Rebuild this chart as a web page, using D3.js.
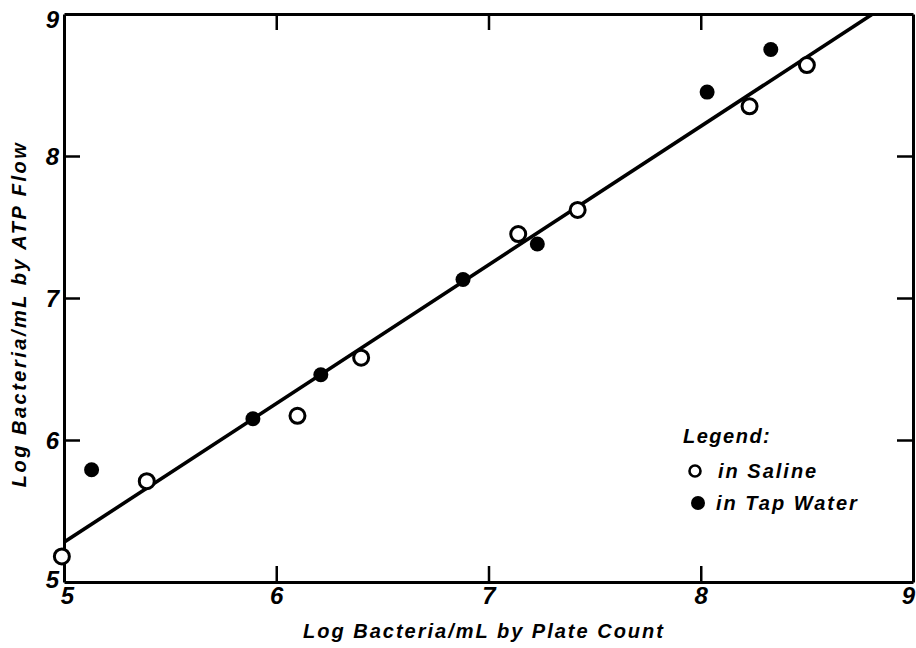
<!doctype html>
<html>
<head>
<style>
  body { margin: 0; background: #fff; }
  text { font-family: "Liberation Sans", Arial, sans-serif; font-weight: bold; font-style: italic; fill: #000; }
</style>
<script src="https://d3js.org/d3.v7.min.js"></script>
</head>
<body>
<svg width="916" height="648"></svg>
<script>
var xTicks = [5, 6, 7, 8, 9];
var yTicks = [5, 6, 7, 8, 9];

var salineX = [4.99, 5.39, 6.10, 6.40, 7.14, 7.42, 8.23, 8.50];
var salineY = [5.18, 5.71, 6.17, 6.58, 7.45, 7.62, 8.35, 8.64];

var tapX = [5.13, 5.89, 6.21, 6.88, 7.23, 8.03, 8.33];
var tapY = [5.79, 6.15, 6.46, 7.13, 7.38, 8.45, 8.75];

var fitX = [5, 8.81];
var fitY = [5.28, 9];

var svg = d3.select("svg"),
    margin = { top: 14, right: 3, bottom: 66, left: 64 },
    width = 916 - margin.left - margin.right,
    height = 648 - margin.top - margin.bottom;

var x = d3.scaleLinear().domain([5, 9]).range([0, width]),
    y = d3.scaleLinear().domain([5, 9]).range([height, 0]);

var g = svg.append("g")
    .attr("transform", "translate(" + margin.left + "," + margin.top + ")");

g.append("clipPath").attr("id", "clip")
    .append("rect").attr("width", width).attr("height", height);

function styleAxis(sel) {
    sel.select(".domain").attr("stroke", "#000").attr("stroke-width", 3);
    sel.selectAll(".tick line").attr("stroke", "#000").attr("stroke-width", 2.5);
    sel.selectAll(".tick text").style("font-size", "24px");
}

var inner = [6, 7, 8];

g.append("g")
    .attr("transform", "translate(0," + height + ")")
    .call(d3.axisBottom(x).tickValues(xTicks).tickSizeInner(-16).tickSizeOuter(0).tickPadding(5).tickFormat(d3.format("d")))
    .call(styleAxis)
    .call(function (s) {
        s.selectAll(".tick line").attr("display", function (d) { return inner.indexOf(d) < 0 ? "none" : null; });
        s.selectAll(".tick text").attr("dx", function (d) { return d === 5 ? 3 : d === 9 ? -5 : 0; });
    });

g.append("g")
    .call(d3.axisLeft(y).tickValues(yTicks).tickSizeInner(-16).tickSizeOuter(0).tickPadding(5).tickFormat(d3.format("d")))
    .call(styleAxis)
    .call(function (s) {
        s.selectAll(".tick line").attr("display", function (d) { return inner.indexOf(d) < 0 ? "none" : null; });
        s.selectAll(".tick text").attr("dy", function (d) { return d === 9 ? "0.55em" : d === 5 ? "0.22em" : "0.35em"; });
    });

g.append("g")
    .call(d3.axisTop(x).tickValues(inner).tickSizeInner(-16).tickSizeOuter(0).tickFormat(""))
    .call(styleAxis);

g.append("g")
    .attr("transform", "translate(" + width + ",0)")
    .call(d3.axisRight(y).tickValues(inner).tickSizeInner(-16).tickSizeOuter(0).tickFormat(""))
    .call(styleAxis);

// fitted line
g.append("path")
    .datum(fitX.map(function (d, i) { return [d, fitY[i]]; }))
    .attr("clip-path", "url(#clip)")
    .attr("fill", "none")
    .attr("stroke", "#000")
    .attr("stroke-width", 3.6)
    .attr("d", d3.line().x(function (d) { return x(d[0]); }).y(function (d) { return y(d[1]); }));

// points
g.selectAll(".tap")
    .data(tapX)
    .enter().append("circle")
    .attr("class", "tap")
    .attr("cx", function (d) { return x(d); })
    .attr("cy", function (d, i) { return y(tapY[i]); })
    .attr("r", 7.5)
    .attr("fill", "#000");

g.selectAll(".saline")
    .data(salineX)
    .enter().append("circle")
    .attr("class", "saline")
    .attr("cx", function (d) { return x(d); })
    .attr("cy", function (d, i) { return y(salineY[i]); })
    .attr("r", 7.5)
    .attr("fill", "#fff")
    .attr("stroke", "#000")
    .attr("stroke-width", 3);

// legend
var lg = svg.append("g").attr("transform", "translate(683,0)");
lg.append("text").attr("x", 0).attr("y", 443).style("font-size", "20px").style("letter-spacing", "1.5px").text("Legend:");
lg.append("circle").attr("cx", 12).attr("cy", 471).attr("r", 5.5)
    .attr("fill", "#fff").attr("stroke", "#000").attr("stroke-width", 2.6);
lg.append("text").attr("x", 35).attr("y", 478).style("font-size", "20px").style("letter-spacing", "2px").text("in Saline");
lg.append("circle").attr("cx", 15).attr("cy", 503).attr("r", 7).attr("fill", "#000");
lg.append("text").attr("x", 33).attr("y", 510).style("font-size", "20px").style("letter-spacing", "2px").text("in Tap Water");

// X axis label
svg.append("text")
    .attr("x", 484)
    .attr("y", 638)
    .attr("text-anchor", "middle")
    .style("font-size", "20px")
    .style("letter-spacing", "2px")
    .text("Log Bacteria/mL by Plate Count");

// Y axis label
svg.append("text")
    .attr("transform", "rotate(-90)")
    .attr("x", -314)
    .attr("y", 26)
    .attr("text-anchor", "middle")
    .style("font-size", "20px")
    .style("letter-spacing", "2.5px")
    .text("Log Bacteria/mL by ATP Flow");
</script>
</body>
</html>
